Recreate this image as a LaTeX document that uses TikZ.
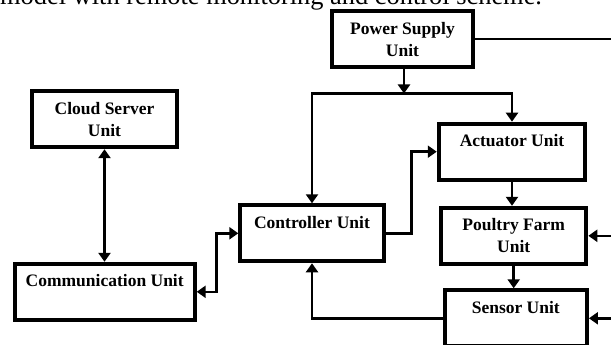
\documentclass[tikz,border=0pt]{standalone}
\usepackage{fontspec}
\setmainfont{Liberation Serif}
\usetikzlibrary{arrows.meta}
\begin{document}
\begin{tikzpicture}[x=1pt,y=1pt,
  box/.style={draw=black, line width=4pt, inner sep=0pt, align=center,
    font=\fontsize{17.5}{22}\selectfont\bfseries, minimum height=56pt},
  conn/.style={line width=2.5pt, -{Triangle[width=12pt,length=9pt]}},
  dconn/.style={line width=2.5pt, {Triangle[width=12pt,length=9pt]}-{Triangle[width=12pt,length=9pt]}},
  plain/.style={line width=2.5pt}]
\useasboundingbox (0,0) rectangle (611,345);
\clip (0,0) rectangle (611,345);
\node[anchor=base west, inner sep=0pt, font=\fontsize{26.4}{30}\selectfont] (cap) at (0,340) {model with remote monitoring and control scheme.};
\node[box, minimum width=141pt] (power) at (402.5,305.8) {Power Supply\\Unit};
\node[box, minimum width=145pt] (cloud) at (104.5,225.8) {Cloud Server\\Unit};
\node[box, minimum width=180pt] (comm) at (104.7,53.2) {Communication Unit\\\mbox{}};
\node[box, minimum width=143.4pt] (ctrl) at (312,111.7) {Controller Unit\\\mbox{}};
\node[box, minimum width=146.5pt] (act) at (512,193.3) {Actuator Unit\\\mbox{}};
\node[box, minimum width=145.3pt] (farm) at (513.7,109.2) {Poultry Farm\\Unit};
\node[box, minimum width=142.3pt] (sens) at (515.8,26.7) {Sensor Unit\\\mbox{}};
\coordinate (j) at (404,251.5);
\coordinate (ca) at (411.7,0);
\coordinate (cc) at (216.7,0);
\coordinate (re) at (616,0);
\draw[conn] (power.south -| j) -- (j);
\draw[conn] (j) -| (ctrl.north);
\draw[conn] (j) -| (act.north);
\draw[conn] (ctrl.east) -- (ctrl.east -| ca) |- (act.west);
\draw[conn] (sens.west) -| (ctrl.south);
\draw[dconn] (comm.east) -- (comm.east -| cc) |- (ctrl.west);
\draw[dconn] (cloud.south) -- (cloud.south |- comm.north);
\draw[conn] (act.south) -- (act.south |- farm.north);
\draw[conn] (farm.south) -- (farm.south |- sens.north);
\draw[plain] (power.east) -- (power.east -| re);
\draw[conn] (farm.east -| re) -- (farm.east);
\draw[conn] (sens.east -| re) -- (sens.east);
\end{tikzpicture}
\end{document}
